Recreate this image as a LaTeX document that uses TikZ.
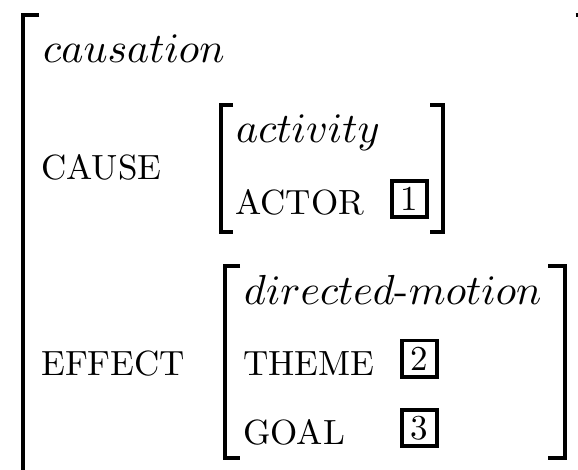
\documentclass[tikz,border=0pt]{standalone}
\usepackage{fontspec}
\newfontfamily\tenrm{lmroman10-regular.otf}
\DeclareFontShape{OML}{cmm}{m}{it}{<->cmmi10}{}
\begin{document}
\begin{tikzpicture}[x=1pt,y=-1pt,
  bracketline/.style={line width=4pt,line join=miter,line cap=butt},
  innerbracket/.style={line width=4pt,line join=miter,line cap=butt},
  feat/.style={anchor=base west,inner sep=0pt,font=\tenrm\fontsize{35}{40}\selectfont},
  typ/.style={anchor=base west,inner sep=0pt,font=\tenrm\fontsize{42}{48}\selectfont},
  numbox/.style={draw,line width=3.6pt,inner sep=0pt,minimum width=35.4pt,minimum height=36.4pt,font=\tenrm\fontsize{35}{40}\selectfont}]
\useasboundingbox (0,0) rectangle (578,470);
\begin{scope}
\clip (0,0) rectangle (578,470);
% outer matrix brackets
\draw[bracketline] (39,15) -- (23,15) -- (23,480);
\draw[bracketline] (575.5,15) -- (600,15) -- (600,480);
\end{scope}
% CAUSE value brackets
\draw[innerbracket] (233,105) -- (220.5,105) -- (220.5,232) -- (233,232);
\draw[innerbracket] (430,105) -- (443,105) -- (443,232) -- (430,232);
% EFFECT value brackets
\draw[innerbracket] (240,266.5) -- (224.5,266.5) -- (224.5,458) -- (240,458);
\draw[innerbracket] (548,266.5) -- (565,266.5) -- (565,458) -- (548,458);
% texts
\node[typ] (causation) at (43,63) {$causation$};
\node[feat] (cause) at (41,180) {CAUSE};
\node[typ] (activity) at (236,143) {$activity$};
\node[feat] (actor) at (235,215) {ACTOR};
\node[numbox] (b1) at (409.5,199) {1};
\node[feat] (effect) at (41,375) {EFFECT};
\node[typ] (dm) at (244,304) {$directed\mbox{-}motion$};
\node[feat] (theme) at (243,375) {THEME};
\node[numbox] (b2) at (419.5,358.5) {2};
\node[feat] (goal) at (243,444) {GOAL};
\node[numbox] (b3) at (419.5,428) {3};
\end{tikzpicture}
\end{document}
